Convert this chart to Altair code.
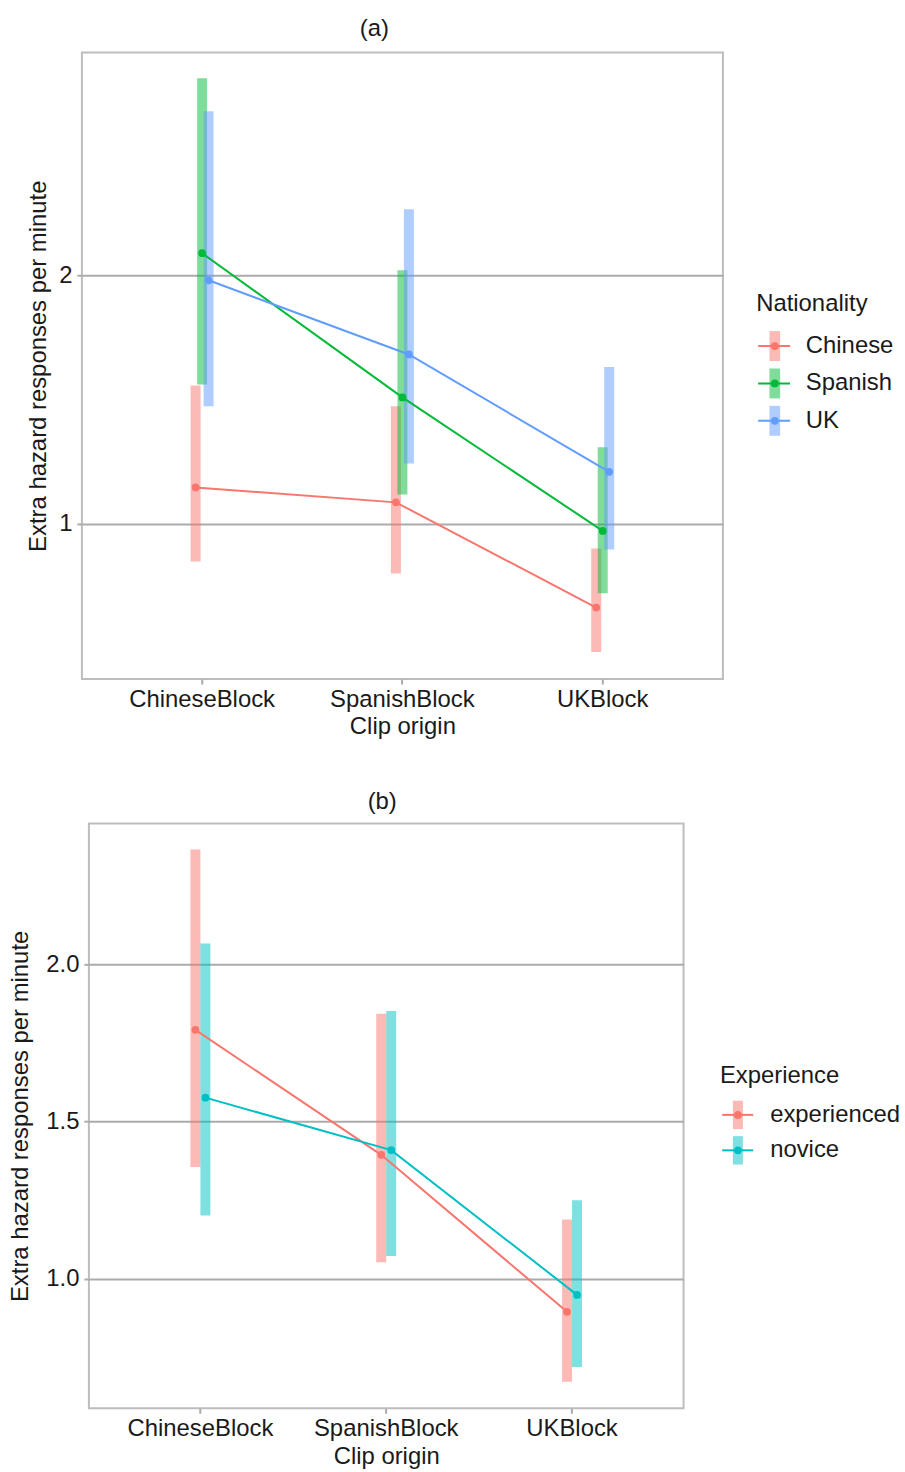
import altair as alt
import pandas as pd

# Clip origin categories (x axis)
blocks = ["ChineseBlock", "SpanishBlock", "UKBlock"]

# (a) rates by driver nationality: estimate, lower and upper 95% CI, one value per clip origin
nationalities = ["Chinese", "Spanish", "UK"]
nationality_colors = ["#F8766D", "#00BA38", "#619CFF"]
chinese_rate = [1.145, 1.085, 0.661]
chinese_lo = [0.847, 0.798, 0.482]
chinese_hi = [1.556, 1.472, 0.899]
spanish_rate = [2.089, 1.508, 0.970]
spanish_lo = [1.560, 1.117, 0.719]
spanish_hi = [2.794, 2.020, 1.307]
uk_rate = [1.980, 1.681, 1.208]
uk_lo = [1.472, 1.242, 0.895]
uk_hi = [2.661, 2.266, 1.630]

# (b) rates by driving experience
experience_levels = ["experienced", "novice"]
experience_colors = ["#F8766D", "#00BFC4"]
experienced_rate = [1.792, 1.394, 0.894]
experienced_lo = [1.355, 1.052, 0.671]
experienced_hi = [2.366, 1.843, 1.188]
novice_rate = [1.576, 1.409, 0.948]
novice_lo = [1.201, 1.072, 0.718]
novice_hi = [2.067, 1.852, 1.249]

FONT = "Liberation Sans"
FS = 23.9
GRID = "#ABABAB"
INK = "#1A1A1A"
Y_TITLE = "Extra hazard responses per minute"
X_EXPAND = 0.1  # outer padding of the clip-origin bands (in band units)


def long_table(field, groups, rates, los, his):
    rows = []
    for g, r, l, h in zip(groups, rates, los, his):
        for b, rv, lv, hv in zip(blocks, r, l, h):
            rows.append({"block": b, field: g, "rate": rv, "lo": lv, "hi": hv})
    return pd.DataFrame(rows)


def frame_anchors(points):
    """Invisible marks that fix how much margin a view reserves around it."""
    one = pd.DataFrame({"k": [0]})
    return [alt.Chart(one).mark_circle(size=1, opacity=0).encode(
        x=alt.value(px), y=alt.value(py)) for px, py in points]


def spacer(width):
    return alt.layer(*frame_anchors([(0, 0)])).properties(
        width=width, height=10, view=alt.ViewBackground(stroke="transparent"))


def panel(df, field, groups, colors, y_domain, y_ticks, y_format, width, height,
          title, title_dx, title_offset, ytitle_x, dodge_step, anchors):
    x = alt.X(
        "block:N", sort=blocks, title="Clip origin",
        scale=alt.Scale(type="band", paddingInner=0, paddingOuter=X_EXPAND),
        axis=alt.Axis(labelAngle=0, labelFontSize=FS, titleFontSize=FS,
                      labelColor=INK, titleColor=INK, titleFontWeight="normal",
                      tickColor=GRID, tickWidth=2, tickSize=5, labelPadding=3,
                      titlePadding=4, domain=False, grid=False),
    )
    # narrow dodge centred inside each clip-origin band
    band = width / (len(blocks) + 2 * X_EXPAND)
    half = dodge_step * len(groups) / 2
    xo = alt.XOffset(f"{field}:N", sort=groups,
                     scale=alt.Scale(type="band", paddingInner=0, paddingOuter=0,
                                     range=[band / 2 - half, band / 2 + half]))
    color = alt.Color(f"{field}:N", sort=groups,
                      scale=alt.Scale(domain=groups, range=colors), legend=None)
    yscale = alt.Scale(domain=y_domain, nice=False, zero=False)
    yaxis = alt.Axis(values=y_ticks, format=y_format, labelFontSize=FS,
                     titleFontSize=FS, labelColor=INK, titleColor=INK,
                     titleFontWeight="normal", tickColor=GRID, tickWidth=2,
                     tickSize=5, labelPadding=5, grid=True, gridColor=GRID,
                     gridWidth=2, domain=False, titleAngle=270,
                     titleBaseline="alphabetic", titleX=ytitle_x)

    base = alt.Chart(df).encode(x=x, xOffset=xo, color=color)
    ci = base.mark_rule(strokeWidth=10, opacity=0.5, strokeCap="butt").encode(
        y=alt.Y("lo:Q", scale=yscale, axis=yaxis, title=Y_TITLE), y2="hi:Q")
    line = base.mark_line(strokeWidth=2).encode(
        y=alt.Y("rate:Q", scale=yscale, axis=yaxis, title=Y_TITLE))
    pts = base.mark_circle(size=60, opacity=1).encode(
        y=alt.Y("rate:Q", scale=yscale, axis=yaxis, title=Y_TITLE))
    return alt.layer(ci, line, pts, *frame_anchors(anchors)).properties(
        width=width, height=height,
        title=alt.TitleParams(title, fontSize=FS, fontWeight="normal",
                              color=INK, anchor="middle", frame="group",
                              dx=title_dx, offset=title_offset,
                              baseline="alphabetic"),
    )


def legend(field, groups, colors, title, width, height, head_x, title_y,
           row_range, line_x, rect_x, label_x):
    ldf = pd.DataFrame({field: groups})
    y = alt.Y(f"{field}:N", sort=groups, axis=None,
              scale=alt.Scale(domain=groups, range=row_range,
                              paddingInner=0.2, paddingOuter=0.1))
    color = alt.Color(f"{field}:N", sort=groups,
                      scale=alt.Scale(domain=groups, range=colors), legend=None)
    base = alt.Chart(ldf).encode(y=y, color=color)
    key_ci = base.mark_rect(opacity=0.5).encode(
        x=alt.value(rect_x[0]), x2=alt.value(rect_x[1]))
    key_line = base.mark_rule(strokeWidth=2).encode(
        x=alt.value(line_x[0]), x2=alt.value(line_x[1]))
    key_pt = base.mark_circle(size=60, opacity=1).encode(
        x=alt.value((rect_x[0] + rect_x[1]) / 2))
    labels = base.mark_text(align="left", baseline="middle", fontSize=FS).encode(
        x=alt.value(label_x), text=f"{field}:N", color=alt.value(INK))
    head = alt.Chart(pd.DataFrame({"t": [title]})).mark_text(
        align="left", baseline="middle", fontSize=FS, color=INK).encode(
        x=alt.value(head_x), y=alt.value(title_y), text="t:N")
    return alt.layer(key_ci, key_line, key_pt, labels, head).properties(
        width=width, height=height,
        view=alt.ViewBackground(stroke="transparent"))


df_a = long_table("nationality", nationalities,
                  [chinese_rate, spanish_rate, uk_rate],
                  [chinese_lo, spanish_lo, uk_lo],
                  [chinese_hi, spanish_hi, uk_hi])
df_b = long_table("experience", experience_levels,
                  [experienced_rate, novice_rate],
                  [experienced_lo, novice_lo],
                  [experienced_hi, novice_hi])

plot_a = panel(df_a, "nationality", nationalities, nationality_colors,
               [0.373, 2.898], [1, 2], "d", 641.7, 627.3, "(a)", -28, -7.9,
               -36.5, 6.5, [(-75.4, 300), (-75.4, 707.3)])
plot_b = panel(df_b, "experience", experience_levels, experience_colors,
               [0.587, 2.449], [1.0, 1.5, 2.0], ".1f", 595.3, 585.4, "(b)", -4,
               -9.7, -61.2, 10, [(-82.1, 300)])

legend_a = legend("nationality", nationalities, nationality_colors, "Nationality",
                  148, 627.3, 0, 251.9, [275.2, 387.5], [2, 34], [13.3, 24], 49.7)
legend_b = legend("experience", experience_levels, experience_colors, "Experience",
                  185, 585.4, 2.7, 252.7, [273.95, 344.95], [5, 36], [15.7, 25.7], 53)

# each row: a thin blank strip, the panel, then its key; the strips set the
# left edge of each panel frame
row_a = alt.hconcat(spacer(1), plot_a, legend_a, spacing=33, bounds="flush")
row_b = alt.hconcat(spacer(7.7), plot_b, legend_b, spacing=33, bounds="flush")

chart = alt.vconcat(row_a, row_b, spacing=27.9).resolve_scale(
    color="independent", xOffset="independent"
).properties(
    padding={"left": 5, "top": 15.7, "right": 0, "bottom": 5}
).configure(font=FONT).configure_view(stroke="#BDBDBD", strokeWidth=2)

chart.save("out.html", embed_options={"renderer": "svg", "actions": False})
